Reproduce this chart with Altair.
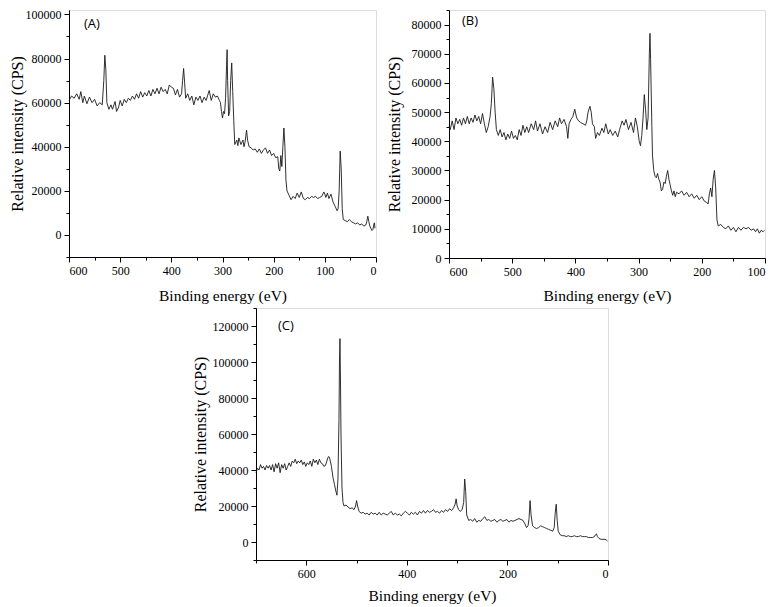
import altair as alt
import pandas as pd

# ---------------- Panel A ----------------
a_energy = [600,595,590,585,580,577,573,570,565,560,555,550,545,540,535,532,530,528,526,522,518,515,510,507,503,500,
            496,492,488,484,480,476,472,468,464,460,456,452,448,444,440,436,432,428,424,420,416,412,408,404,400,396,392,
            388,384,380,378,376,374,372,368,364,360,356,352,348,344,340,336,332,328,326,322,318,314,310,306,304,302,300,
            298,296,294,292,291,290,288,286,284,282,280,278,276,272,270,268,264,260,258,256,253,251,248,244,240,236,232,
            228,224,220,216,212,208,204,200,196,192,190,188,186,184,182,180,178,176,174,170,166,162,158,154,150,146,142,
            138,134,130,126,122,118,114,110,106,102,100,98,95,92,88,84,80,76,74,72,70,68,66,64,60,56,52,48,44,40,36,32,
            28,24,20,18,16,14,12,10,8,6,4,3,2]
a_counts = [61000,63000,62000,64000,61500,65000,60000,63000,59500,62500,60000,61500,58500,60000,59000,70000,81500,75000,
            60000,57000,59000,57000,60500,56000,58000,61000,58500,61500,60000,62000,61000,63000,61500,64000,62000,65000,
            62500,64500,63000,65500,63000,66000,64000,66500,64000,67000,65000,66000,64000,68000,67000,66500,63500,66000,
            62500,64000,70000,75500,69000,62000,64000,61000,63000,59000,62500,61000,63000,60000,62500,61000,64000,65500,
            61000,64000,62500,63000,61000,60000,56000,53000,56000,55000,62000,77000,84000,70000,54000,56000,70000,78000,
            65000,52000,41000,43000,40500,44000,41000,43000,40000,42000,47500,43000,40000,39500,38500,39000,37500,39000,
            37000,38500,39500,37000,38500,36000,37000,35000,35500,30000,29000,36000,31000,40000,48500,40000,25000,20000,
            18000,16000,17500,16500,19000,17000,19500,16500,16000,17000,16500,17500,17000,17500,16500,17000,17500,19500,
            18500,17000,19000,16500,18500,15000,13000,11000,12000,20000,38000,30000,12000,7000,6500,6000,7000,6000,5500,
            5000,5500,4500,5000,4000,4500,6000,8500,6000,4000,3000,2000,2500,5000,5500,3000]

# ---------------- Panel B ----------------
b_energy = [600,598,595,592,589,586,583,580,577,574,571,568,565,562,559,556,553,550,547,544,541,538,535,533,531,529,527,
            525,522,519,516,513,510,507,504,501,498,495,492,489,486,483,480,477,474,470,466,463,460,456,452,448,444,440,
            436,432,428,425,422,418,414,412,410,407,404,401,398,395,392,388,384,382,380,377,375,373,370,368,365,362,358,
            355,352,348,345,341,337,333,330,326,323,320,316,312,308,305,302,299,297,295,293,291,289,287,285,283,282,281,
            279,278,276,274,272,270,268,266,264,262,260,258,256,254,252,250,248,246,244,242,240,236,232,228,224,220,216,
            212,208,204,200,196,192,190,188,186,184,182,180,178,176,174,170,166,162,158,154,150,146,142,138,134,130,126,
            122,118,115,112,109,106,103,101]
b_counts = [45000,44000,47000,44000,48000,46000,47500,45500,48000,46000,48500,46000,48000,46500,49000,47000,48500,46000,
            49500,46000,43000,45000,48500,53000,62000,58000,50000,44000,42000,44000,41500,43000,40500,42500,41000,43500,
            41000,42000,40500,44000,42000,45500,43000,45000,43000,46000,44000,47000,43500,46000,42500,45000,43000,46500,
            44000,47000,45000,48000,46000,47500,45000,41000,46000,47500,48500,51000,48000,47000,46500,46000,45500,47000,
            50000,52000,50000,46000,45000,41000,43000,42000,44500,43000,46000,42500,44000,42000,43500,41500,44000,47000,
            45500,47500,44000,46500,43000,48000,45000,40000,38500,42000,48000,56000,51000,44000,48000,70000,77000,68000,
            45000,35000,30000,28000,27500,29000,27000,26000,23000,23500,26000,25500,28000,30000,27000,25000,23000,21500,
            23000,21000,22500,22000,23000,21500,22500,21000,22000,20500,21500,20000,21000,19500,19000,18500,22000,24000,
            21000,27000,30000,24000,13000,11000,11500,10500,10000,11000,9500,10500,9000,10500,9500,10500,10000,10500,
            9500,10000,9000,10000,8500,9500,9000,9500]

# ---------------- Panel C ----------------
c_energy = [700,697,694,691,688,685,682,679,676,673,670,667,664,661,658,655,652,649,646,643,640,637,634,631,628,625,622,
            619,616,613,610,607,604,601,598,595,592,589,586,583,580,577,574,571,568,565,562,559,557,555,553,550,547,544,
            541,539,537,535,534,533,532,531,529,527,525,521,517,513,509,505,502,500,498,495,491,487,483,479,475,471,467,
            463,459,455,451,447,443,439,435,431,427,423,419,415,411,407,403,399,395,391,387,383,379,375,371,367,363,359,
            355,351,347,343,339,335,331,327,323,319,315,311,307,304,302,300,297,294,290,287,285,283,281,277,273,269,265,
            261,257,253,249,245,241,237,233,229,225,221,217,213,209,205,201,197,193,189,185,181,177,173,169,165,162,159,
            157,155,153,150,146,142,138,134,130,126,122,118,114,110,107,105,103,101,99,95,91,87,83,79,75,71,67,63,59,55,
            51,47,43,39,35,31,27,25,23,21,18,14,10,6,3,1]
c_counts = [38500,41000,40000,43000,41000,42000,40000,42500,41000,42500,40000,43000,39000,43500,41000,44000,38500,43000,
            41000,43500,40000,42000,44000,42000,45000,44000,46000,43500,45000,44000,45500,43000,44500,42000,44000,43000,
            45000,42000,46000,44000,45500,43000,46000,44000,43500,42000,42500,45000,47000,47500,46000,42000,36000,32000,
            28000,26000,35000,68000,100000,113000,90000,60000,30000,22000,20000,20500,19500,18500,19000,18000,20000,23000,
            20000,17000,16000,16500,15500,16000,15000,16500,15500,16000,15000,16500,15000,16000,15500,15000,16000,17000,
            15000,16000,15000,15500,14500,16000,17000,16000,15000,16500,15500,16500,15000,17000,16000,17500,16000,17500,
            16500,17000,18000,16500,17000,16000,17500,16500,18000,17000,18500,17500,19000,21000,24000,20000,18000,17000,
            18000,22000,35000,28000,15000,12000,12500,11500,13000,11000,12000,11500,13000,14000,12000,12500,11500,12000,
            12500,11000,12000,12500,11500,12000,12500,11000,12000,11500,12000,12500,13000,12500,12000,10000,8000,9000,
            13000,23000,15000,9000,8000,7500,8000,9000,8500,8000,7500,7000,6500,6000,8000,16000,21000,12000,6000,4000,
            3500,3500,3000,3500,3000,3000,3500,3000,3000,3500,3000,3000,3000,2500,2500,2500,3000,4000,4500,3000,2000,
            1500,1500,1500,1000,500]

panel_labels = ["(A)", "(B)", "(C)"]
x_title = "Binding energy (eV)"
y_title = "Relative intensity (CPS)"

SERIF = "Liberation Serif"
SANS = "Open Sans"
LINE = "#1a1a1a"


def axis(values, mod, title, tpad, tsize):
    return alt.Axis(
        values=values,
        labelExpr=f"datum.value % {mod} === 0 ? datum.label : ''",
        format="d",
        tickSize={"condition": {"test": f"datum.value % {mod} === 0", "value": 5}, "value": 3},
        labelOverlap=False,
        grid=False,
        title=title,
        titlePadding=tpad,
        titleFont=SERIF,
        titleFontSize=tsize,
        titleFontWeight="normal",
        titleColor="#000",
        labelFont=SERIF,
        labelFontSize=12,
        labelColor="#000",
        labelPadding=3,
        domainColor="#000",
        tickColor="#000",
    )


def panel(energy, counts, xdom, ydom, xvals, xmod, yvals, ymod, w, h, label, lx, ly, xtpad, ytpad):
    df = pd.DataFrame({"E": energy, "I": counts})
    line = alt.Chart(df).mark_line(color=LINE, strokeWidth=0.9).encode(
        x=alt.X("E:Q", scale=alt.Scale(domain=xdom, reverse=True, nice=False, zero=False),
                axis=axis(xvals, xmod, x_title, xtpad, 15.5)),
        y=alt.Y("I:Q", scale=alt.Scale(domain=ydom, nice=False, zero=False),
                axis=axis(yvals, ymod, y_title, ytpad, 16)),
    )
    txt = alt.Chart(pd.DataFrame({"t": [label]})).mark_text(
        align="left", baseline="middle", font=SANS, fontSize=13, color="#000"
    ).encode(x=alt.value(lx), y=alt.value(ly), text="t:N")
    return alt.layer(line, txt).properties(width=w, height=h)


chart_a = panel(a_energy, a_counts, [0, 600], [-10000, 102000],
                list(range(0, 601, 50)), 100, list(range(-10000, 100001, 10000)), 20000,
                307, 247, panel_labels[0], 15, 14, 12.5, 0)
chart_b = panel(b_energy, b_counts, [100, 600], [0, 85000],
                list(range(100, 601, 50)), 100, list(range(0, 85001, 5000)), 10000,
                316, 248, panel_labels[1], 13, 11, 11.5, 9)
chart_c = panel(c_energy, c_counts, [0, 700], [-10000, 130000],
                list(range(0, 701, 100)), 200, list(range(-10000, 130001, 10000)), 20000,
                352, 252, panel_labels[2], 22, 18, 9.5, 4)

spacer = alt.Chart(pd.DataFrame({"a": [0]})).mark_point(opacity=0).encode(
    x=alt.value(0), y=alt.value(0)).properties(
    width=121, height=10, view=alt.ViewBackground(stroke="transparent", fill="transparent"))

top = alt.hconcat(chart_a, chart_b, spacing=7)
bottom = alt.hconcat(spacer, chart_c, spacing=0)

chart = alt.vconcat(top, bottom, spacing=-4).properties(
    padding={"left": 0, "top": -5, "right": 0, "bottom": 0}
).configure_view(stroke=None).configure(background="white")

chart.save("out.html", embed_options={"renderer": "svg", "actions": False})
